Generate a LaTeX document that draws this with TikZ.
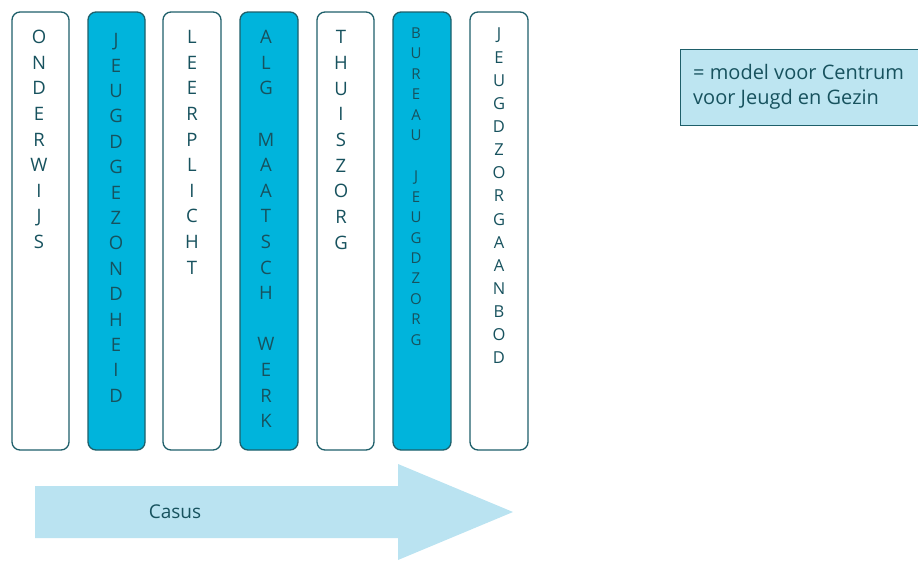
\documentclass[tikz,border=0pt]{standalone}
\usepackage{fontspec}
\setmainfont{Open Sans}
\definecolor{ink}{HTML}{17525E}
\definecolor{edge}{HTML}{1E5F6A}
\definecolor{cyanfill}{HTML}{00B4DC}
\definecolor{paleblue}{HTML}{BAE3F1}
\definecolor{legendfill}{HTML}{BDE5F1}
\begin{document}
\begin{tikzpicture}[x=1pt,y=-1pt,
  colbox/.style={draw=edge,line width=1.3pt,rounded corners=8pt},
  whitecol/.style={colbox,fill=white},
  bluecol/.style={colbox,fill=cyanfill},
  letter/.style={inner sep=0pt,text=ink,text height=13.2pt,text depth=0pt,anchor=center,font=\fontsize{18.5}{18.5}\selectfont},
  smallletter/.style={letter,text height=10.7pt,font=\fontsize{15}{15}\selectfont},
  midletter/.style={letter,text height=11.8pt,font=\fontsize{16.5}{16.5}\selectfont}]
\useasboundingbox (0,0) rectangle (918,560);
% columns
\draw[whitecol] (12,12) rectangle (69,450) coordinate (c1);
\draw[bluecol] (88,12) rectangle (145,450) coordinate (c2);
\draw[whitecol] (163,12) rectangle (221,450) coordinate (c3);
\draw[bluecol] (240,12) rectangle (298,450) coordinate (c4);
\draw[whitecol] (317,12) rectangle (374,450) coordinate (c5);
\draw[bluecol] (393,12) rectangle (451,450) coordinate (c6);
\draw[whitecol] (470,12) rectangle (528,450) coordinate (c7);
% letters
\foreach \s [count=\i] in {O,N,D,E,R,W,I,J,S}
  \node[letter] (a\i) at (39,{37+25.6*(\i-1)}) {\s};
\foreach \s [count=\i] in {J,E,U,G,D,G,E,Z,O,N,D,H,E,I,D}
  \node[letter] (b\i) at (116,{40+25.4*(\i-1)}) {\s};
\foreach \s [count=\i] in {L,E,E,R,P,L,I,C,H,T}
  \node[letter] (c\i) at (192,{37+25.6*(\i-1)}) {\s};
\foreach \s [count=\i] in {A,L,G,{},M,A,A,T,S,C,H,{},W,E,R,K}
  \node[letter] (d\i) at (266,{37+25.6*(\i-1)}) {\s};
\foreach \s [count=\i] in {T,H,U,I,S,Z,O,R,G}
  \node[letter] (e\i) at (341,{37+25.7*(\i-1)}) {\s};
\foreach \s [count=\i] in {B,U,R,E,A,U,{},J,E,U,G,D,Z,O,R,G}
  \node[smallletter] (f\i) at (416,{33+20.47*(\i-1)}) {\s};
\foreach \s [count=\i] in {J,E,U,G,D,Z,O,R,G,A,A,N,B,O,D}
  \node[midletter] (g\i) at (499,{34+23.14*(\i-1)}) {\s};
% legend
\node[draw=edge,line width=1.2pt,fill=legendfill,minimum width=238pt,minimum height=76pt,anchor=north west,inner sep=0pt] (legend) at (680,49) {};
\node[anchor=base west,text=ink,align=left,inner sep=0pt,font=\fontsize{20}{24.5}\selectfont] (legendtext) at (693,104) {= model voor Centrum\\voor Jeugd en Gezin};
% arrow
\fill[paleblue] (35,486) -- (398,486) -- (398,464) -- (513,512) -- (398,560) -- (398,538) -- (35,538) -- cycle;
\node[text=ink,font=\fontsize{19}{19}\selectfont,inner sep=0pt] (casus) at (175,512) {Casus};
\end{tikzpicture}
\end{document}
